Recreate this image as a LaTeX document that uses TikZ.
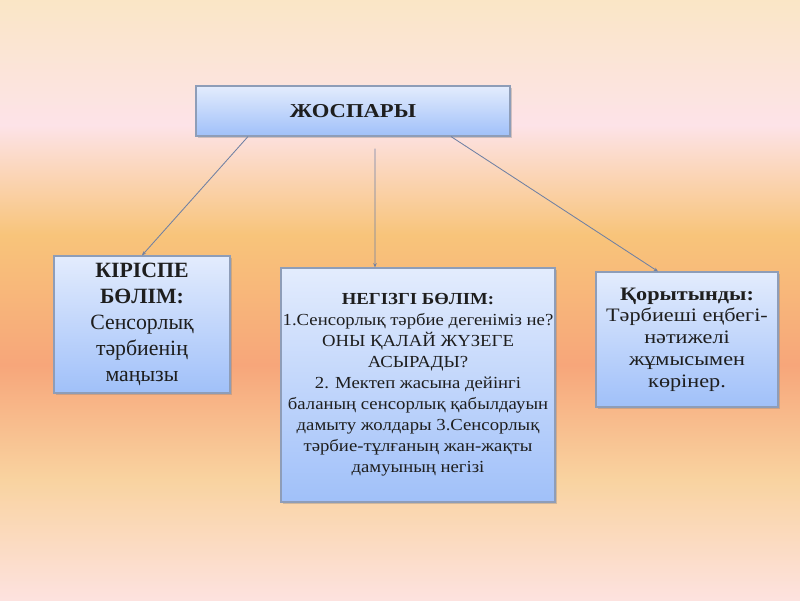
\documentclass[tikz,border=0pt]{standalone}
\usepackage{fontspec}
\setmainfont{Liberation Serif}
\newfontfamily\planwide{Liberation Serif}[FakeStretch=1.15]
\newfontfamily\bodywide{Liberation Serif}[FakeStretch=1.11]
\newfontfamily\conclwide{Liberation Serif}[FakeStretch=1.17]
\usetikzlibrary{arrows.meta,shadows}

\definecolor{bgA}{HTML}{FAE6C6}
\definecolor{bgB}{HTML}{FDE3E8}
\definecolor{bgC}{HTML}{F8C47A}
\definecolor{bgD}{HTML}{F7A67A}
\definecolor{bgE}{HTML}{F9D3A0}
\definecolor{bgF}{HTML}{FDE2DF}
\definecolor{boxtop}{HTML}{E3ECFD}
\definecolor{boxbot}{HTML}{A0C0F9}
\definecolor{boxline}{HTML}{8E9DB8}
\definecolor{linkc}{HTML}{6F80A3}
\definecolor{ink}{HTML}{1E1E1E}

\begin{document}
\begin{tikzpicture}[x=0.025cm,y=-0.025cm,
    planbox/.style={draw=boxline, line width=0.8pt, top color=boxtop, bottom color=boxbot,
      drop shadow={shadow xshift=1.5pt, shadow yshift=-1.5pt, opacity=0.35},
      align=center, text=ink, inner sep=2pt},
    link/.style={draw=linkc, line width=0.6pt, -{Stealth[length=3pt,width=2.5pt]}}]
    \useasboundingbox (0,0) rectangle (800,600);

    % background
    \shade[top color=bgA, bottom color=bgB] (0,0) rectangle (800,125);
    \shade[top color=bgB, bottom color=bgC] (0,125) rectangle (800,235);
    \shade[top color=bgC, bottom color=bgD] (0,235) rectangle (800,365);
    \shade[top color=bgD, bottom color=bgE] (0,365) rectangle (800,480);
    \shade[top color=bgE, bottom color=bgF] (0,480) rectangle (800,600);

    \node[planbox, minimum width=7.85cm, minimum height=1.25cm,
      font=\planwide\fontsize{14}{17}\selectfont\bfseries] (plan) at (353,111) {ЖОСПАРЫ};

    \node[planbox, minimum width=4.4cm, minimum height=3.425cm,
      font=\fontsize{15.5}{18.5}\selectfont] (intro) at (142,324.5)
      {\textbf{КІРІСПЕ}\\ \textbf{БӨЛІМ:}\\ Сенсорлық\\ тәрбиенің\\ маңызы};

    \node[planbox, inner xsep=0pt, minimum width=6.85cm, minimum height=5.85cm,
      font=\bodywide\fontsize{12}{14.9}\selectfont] (body) at (418,385)
      {\textbf{НЕГІЗГІ БӨЛІМ:}\\ 1.Сенсорлық тәрбие дегеніміз не?\\ ОНЫ ҚАЛАЙ ЖҮЗЕГЕ\\ АСЫРАДЫ?\\
       2. Мектеп жасына дейінгі\\ баланың сенсорлық қабылдауын\\ дамыту жолдары 3.Сенсорлық\\
       тәрбие-тұлғаның жан-жақты\\ дамуының негізі};

    \node[planbox, minimum width=4.55cm, minimum height=3.375cm,
      font=\conclwide\fontsize{13.5}{15.5}\selectfont] (concl) at (687,339.5)
      {\textbf{Қорытынды:}\\ Тәрбиеші еңбегі-\\ нәтижелі\\ жұмысымен\\ көрінер.};

    \draw[link] ([xshift=-2.625cm]plan.south) -- (intro.north);
    \draw[link] ([xshift=0.55cm,yshift=-0.3cm]plan.south) -- ([xshift=-1.075cm]body.north);
    \draw[link] ([xshift=2.45cm]plan.south) -- ([xshift=-0.725cm]concl.north);
\end{tikzpicture}
\end{document}
